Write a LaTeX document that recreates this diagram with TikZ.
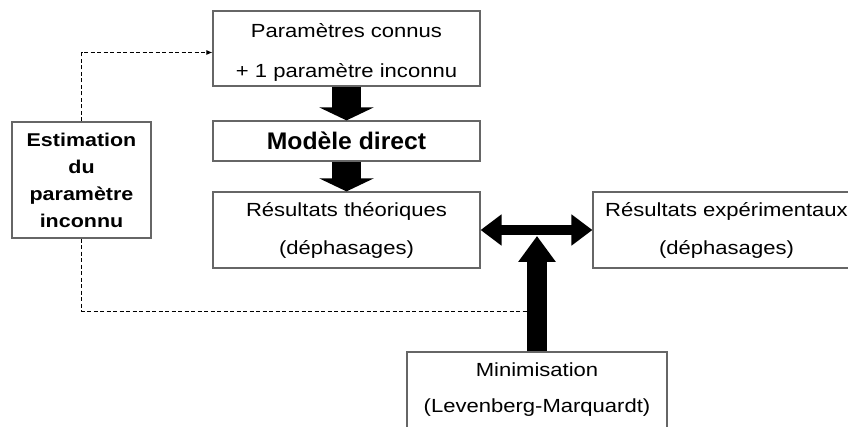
\documentclass[tikz,border=0pt]{standalone}
\usepackage{fontspec}
\setmainfont{Liberation Sans}[FakeStretch=1.16]
\newfontfamily\modelefont{Liberation Sans}[FakeStretch=1.03]
\usetikzlibrary{arrows.meta}
\begin{document}
\begin{tikzpicture}[x=1pt,y=-1pt,
  box/.style={draw=black!60, line width=1.2pt, inner sep=0pt, align=center,
    minimum width=267pt, font=\fontsize{19}{38}\selectfont},
  bigarrow/.style={line width=29pt, -{Triangle[width=54pt,length=13pt]}},
  feedback/.style={line width=0.8pt, dash pattern=on 4pt off 2.5pt}]
\fill[white] (0,0) rectangle (848,427);
\useasboundingbox (0,0) rectangle (848,427);

\node[box, minimum height=75pt, font=\fontsize{19}{40}\selectfont] (param) at (346.5,48.5)
  {\rule{0pt}{21pt}Paramètres connus\\+ 1 paramètre inconnu};
\node[box, minimum height=40pt, font=\modelefont\fontsize{24}{28}\selectfont\bfseries] (modele) at (346.5,141)
  {Modèle direct};
\node[box, minimum height=76pt] (theo) at (346.5,230)
  {Résultats théoriques\\(déphasages)};
\node[box, minimum height=76pt] (exp) at (726.5,230)
  {Résultats expérimentaux\\(déphasages)};
\node[box, minimum width=139pt, minimum height=116pt, font=\fontsize{18.5}{27}\selectfont\bfseries] (estim) at (81.5,180)
  {Estimation\\du\\paramètre\\inconnu};
\node[box, minimum width=260pt, minimum height=76pt, font=\fontsize{19}{36}\selectfont] (mini) at (537,390)
  {Minimisation\\(Levenberg-Marquardt)};

\draw[bigarrow] (param) -- (modele);
\draw[bigarrow] (modele) -- (theo);

\draw[line width=10pt, {Triangle[width=30pt,length=21pt]}-{Triangle[width=30pt,length=21pt]}] (theo.east) -- (exp.west);
\coordinate (hub) at (537,236);
\draw[line width=20pt, -{Triangle[width=36pt,length=26pt]}] (mini) -- (hub);

\draw[feedback, -{Latex[length=6pt,width=5pt]}] (estim.north) |- ([yshift=-4pt]param.west);
\coordinate (tap) at (527,311);
\draw[feedback] (estim.south) |- (tap);
\end{tikzpicture}
\end{document}
